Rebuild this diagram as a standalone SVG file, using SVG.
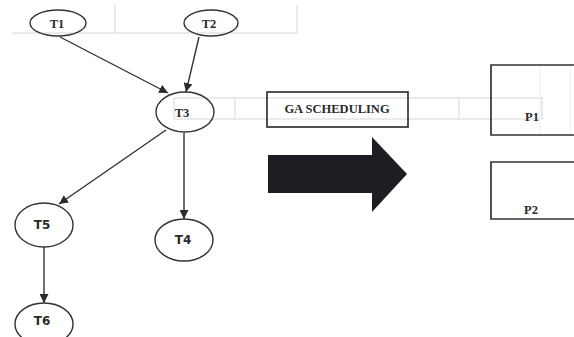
<svg xmlns="http://www.w3.org/2000/svg" width="574" height="337" viewBox="0 0 574 337">
<defs>
<style>
.grid{stroke:#d6d6d6;stroke-width:1;fill:none}
.faint{stroke:#ececec;stroke-width:1;fill:none}
.node{fill:none;stroke:#333;stroke-width:1.4}
.edge{stroke:#333;stroke-width:1.4;fill:none;marker-end:url(#ah)}
.ts{font-family:"Liberation Serif",serif;font-weight:bold;font-size:12.5px;fill:#2a2a2a;text-anchor:middle}
.tn{font-family:"DejaVu Sans",sans-serif;font-weight:bold;font-size:12px;fill:#2a2a2a;text-anchor:middle}
.box{fill:none;stroke:#333;stroke-width:1.7}
</style>
<marker id="ah" viewBox="0 0 10 10" refX="10" refY="5" markerWidth="9" markerHeight="9" markerUnits="userSpaceOnUse" orient="auto">
<path d="M0,0 L10,5 L0,10 z" fill="#2a2a2a"/>
</marker>
</defs>
<rect width="574" height="337" fill="#fff"/>
<g id="grid">
<path class="grid" d="M12,33 H297 M115,5 V33 M297,5 V33"/>
<path class="grid" d="M174,98 H543 M174,119 H543 M235,98 V119 M459,98 V119 M542,98 V119 M174,98 V119"/>
</g>
<g id="connectors">
<line class="edge" x1="60" y1="37" x2="168" y2="93"/>
<line class="edge" x1="199" y1="37" x2="186" y2="92"/>
<line class="edge" x1="166" y1="130" x2="59" y2="204"/>
<line class="edge" x1="184" y1="133" x2="184" y2="219"/>
<line class="edge" x1="44" y1="247" x2="44" y2="303"/>
</g>
<g id="T1"><ellipse class="node" cx="58" cy="23" rx="28" ry="13"/><text class="ts" x="57" y="28">T1</text></g>
<g id="T2"><ellipse class="node" cx="211" cy="23" rx="27" ry="13"/><text class="ts" x="209" y="28">T2</text></g>
<g id="T3"><ellipse class="node" cx="185" cy="112" rx="29" ry="20"/><text class="ts" x="182" y="117">T3</text></g>
<g id="T5"><ellipse class="node" cx="44" cy="225" rx="29" ry="22"/><text class="tn" x="42" y="229">T5</text></g>
<g id="T4"><ellipse class="node" cx="184" cy="240" rx="29" ry="21"/><text class="tn" x="183" y="244">T4</text></g>
<g id="T6"><ellipse class="node" cx="44" cy="324" rx="29" ry="21"/><text class="tn" x="42" y="325">T6</text></g>
<g id="GA"><rect class="box" x="267" y="92" width="141" height="35"/><text class="ts" x="337" y="113">GA SCHEDULING</text></g>
<g id="bigArrow"><path d="M268,155 H372 V137 L407,174 L372,212 V193 H268 Z" fill="#1d1d24"/></g>
<g id="P1"><path class="box" d="M576,65 H491 V135 H576"/><path class="faint" d="M540,66 V134 M570,66 V134"/><text class="ts" x="532" y="121">P1</text></g>
<g id="P2"><path class="box" d="M576,162 H491 V219 H576"/><text class="ts" x="531" y="214">P2</text></g>
</svg>
